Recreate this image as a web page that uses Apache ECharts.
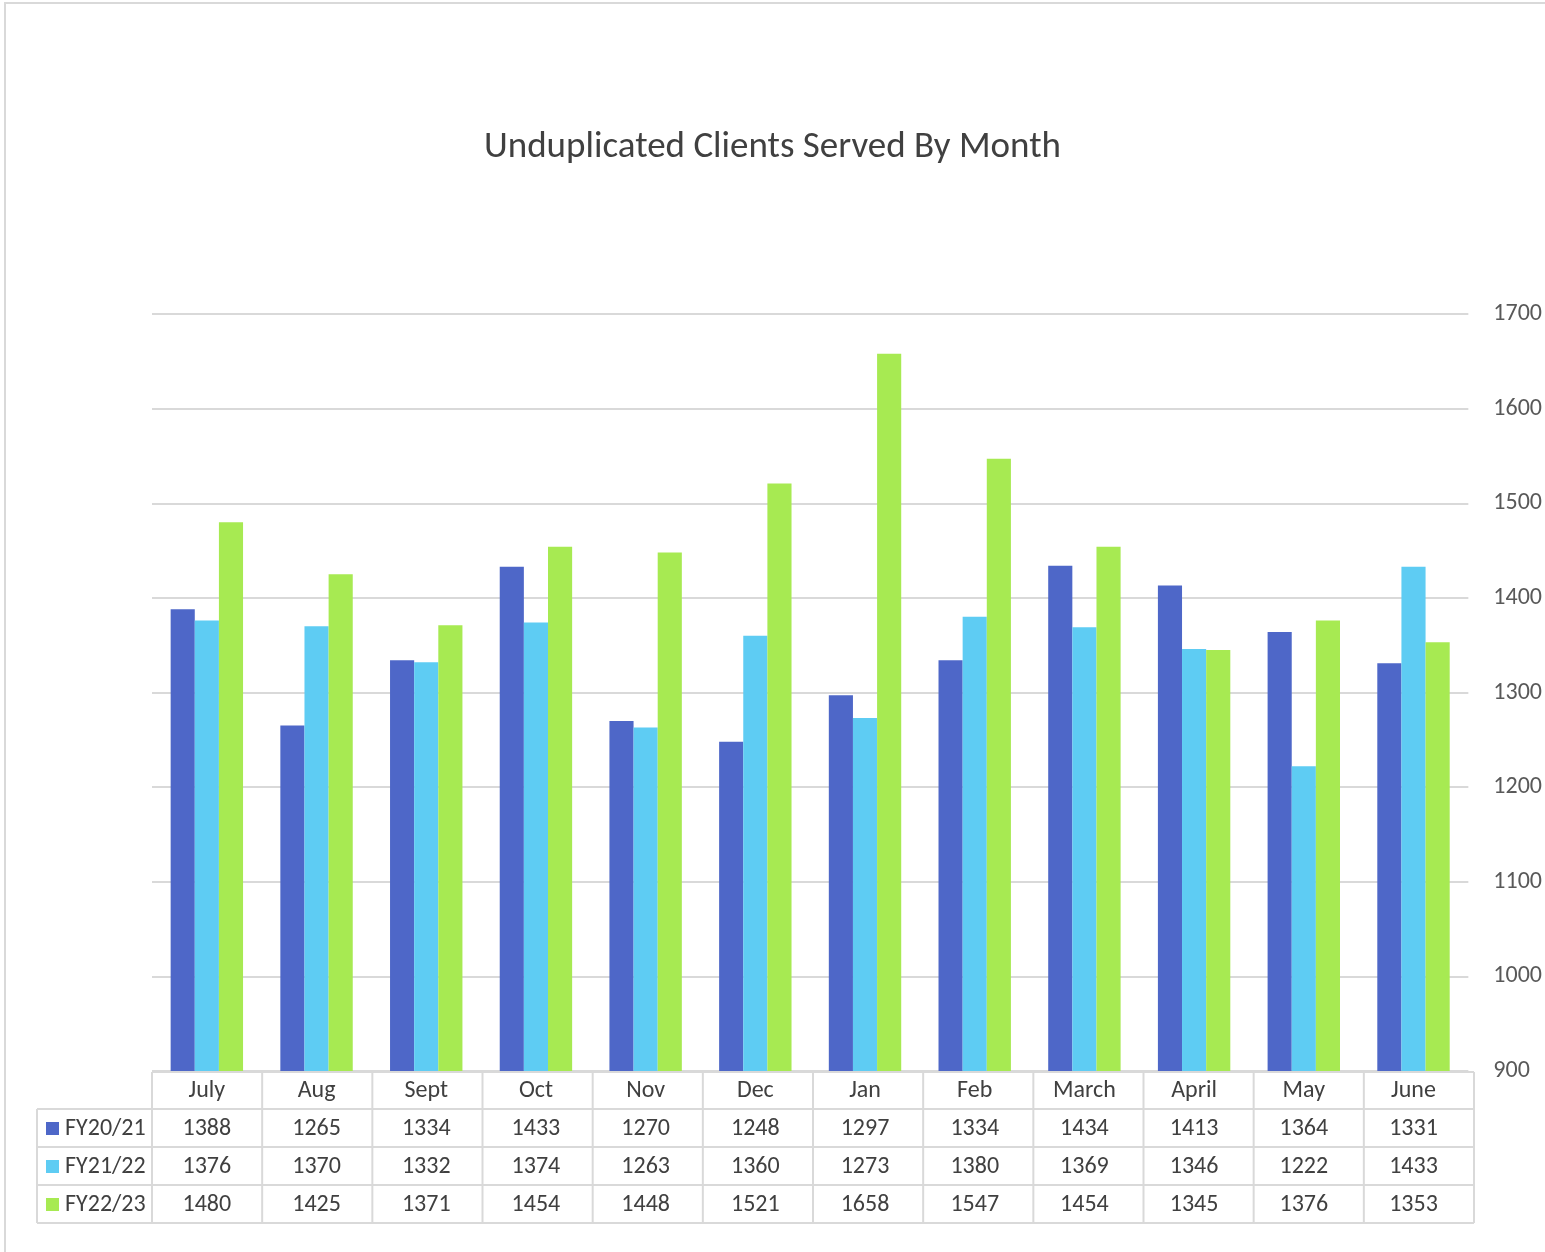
<!DOCTYPE html>
<html>
<head>
<meta charset="utf-8">
<script src="https://cdn.jsdelivr.net/npm/echarts@6/dist/echarts.min.js"></script>
<style>
html,body{margin:0;padding:0;background:#fff;}
#chart{width:1545px;height:1252px;}
</style>
</head>
<body>
<div id="chart"></div>
<script>
const months = ['July','Aug','Sept','Oct','Nov','Dec','Jan','Feb','March','April','May','June'];
const seriesNames = ['FY20/21','FY21/22','FY22/23'];
const fy2021 = [1388,1265,1334,1433,1270,1248,1297,1334,1434,1413,1364,1331];
const fy2122 = [1376,1370,1332,1374,1263,1360,1273,1380,1369,1346,1222,1433];
const fy2223 = [1480,1425,1371,1454,1448,1521,1658,1547,1454,1345,1376,1353];
const yTicks = [900,1000,1100,1200,1300,1400,1500,1600,1700];
const colors = ['#4E67C8','#5ECCF3','#A7EA52'];

const FONT = 'Calibri, Carlito, Lato, "Open Sans", sans-serif';
const TXT = '#404040';
const LINE = '#d9d9d9';
const FS = 24;

const chart = echarts.init(document.getElementById('chart'));
const G = {left:152, right:71, top:314, bottom:181};
const W = 1545, H = 1252;
const gx0 = G.left, gx1 = W - G.right, gy1 = H - G.bottom;
const rowH = 38;
const rows = [fy2021, fy2122, fy2223];

function xAxisFor(i){
  const base = {
    type:'category', data:months, position:'bottom', gridIndex:0,
    axisLine:{show:false}, axisTick:{show:false}, splitLine:{show:false},
    axisLabel:{color:TXT, fontSize:FS, fontFamily:FONT, margin:8, interval:0}
  };
  if(i === 0) return base;
  base.offset = rowH * i;
  base.axisLabel = Object.assign({}, base.axisLabel, {formatter:(v, idx) => String(rows[i-1][idx])});
  return base;
}

const graphics = [];
graphics.push({type:'rect', shape:{x:5, y:3, width:1700, height:1400}, style:{fill:'none', stroke:LINE, lineWidth:2}, silent:true});
const tableTop = gy1 + 1;
const hLines = [tableTop, tableTop+37, tableTop+75, tableTop+113, tableTop+151];
hLines.forEach((y, k) => {
  graphics.push({type:'line', shape:{x1:(k===0?gx0:37), y1:y, x2:gx1, y2:y}, style:{stroke:LINE, lineWidth:2}, silent:true});
});
const cw = (gx1 - gx0) / months.length;
for(let i=0;i<=months.length;i++){
  const x = gx0 + cw*i;
  graphics.push({type:'line', shape:{x1:x, y1:tableTop, x2:x, y2:hLines[4]}, style:{stroke:LINE, lineWidth:2}, silent:true});
}
graphics.push({type:'line', shape:{x1:37, y1:hLines[1], x2:37, y2:hLines[4]}, style:{stroke:LINE, lineWidth:2}, silent:true});

seriesNames.forEach((n, i) => {
  const cy = hLines[1+i] + 19;
  graphics.push({type:'rect', shape:{x:46, y:cy-6, width:13, height:13}, style:{fill:colors[i]}, silent:true});
  graphics.push({type:'text', style:{x:65, y:cy+1, text:n, fill:TXT, font:FS + 'px ' + FONT, textVerticalAlign:'middle', verticalAlign:'middle'}, silent:true});
});

chart.setOption({
  animation:false,
  backgroundColor:'#fff',
  color:colors,
  title:{
    text:'Unduplicated Clients Served By Month',
    left:'center', top:124,
    textStyle:{color:TXT, fontSize:37, fontWeight:'normal', fontFamily:FONT}
  },
  grid:G,
  xAxis:[xAxisFor(0), xAxisFor(1), xAxisFor(2), xAxisFor(3)],
  yAxis:{
    type:'value', position:'right', min:yTicks[0], max:yTicks[yTicks.length-1], interval:100,
    axisLine:{show:false}, axisTick:{show:false},
    axisLabel:{color:'#595959', fontSize:FS, fontFamily:FONT, margin:25, padding:[3,0,0,0], formatter:v => String(v)},
    splitLine:{lineStyle:{color:LINE, width:2}}
  },
  series:[
    {name:seriesNames[0], type:'bar', data:fy2021, barGap:'0%', barCategoryGap:'34%', xAxisIndex:0},
    {name:seriesNames[1], type:'bar', data:fy2122, barGap:'0%', barCategoryGap:'34%', xAxisIndex:0},
    {name:seriesNames[2], type:'bar', data:fy2223, barGap:'0%', barCategoryGap:'34%', xAxisIndex:0}
  ],
  graphic:graphics
});
</script>
</body>
</html>
